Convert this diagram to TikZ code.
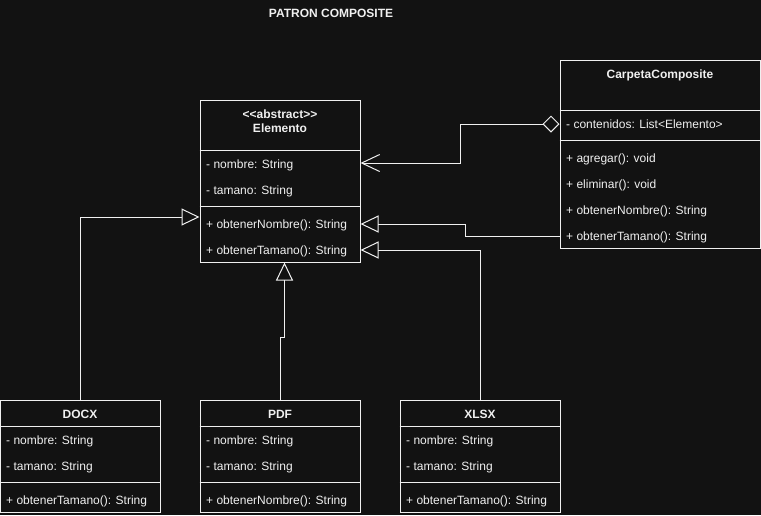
\documentclass[tikz,border=0pt]{standalone}
\usepackage{fontspec}
\setmainfont{Liberation Sans}[Ligatures=TeXOff]
\usetikzlibrary{arrows.meta}
\definecolor{bg}{RGB}{18,18,18}
\definecolor{fg}{RGB}{240,240,240}
\tikzset{
  cls/.style={draw=fg, line width=1pt, rectangle, inner sep=0pt},
  attr/.style={anchor=base west, inner sep=0pt, text=fg, font=\fontsize{12}{14.4}\selectfont, yshift=-1.7pt},
  ttl/.style={anchor=base, inner sep=0pt, text=fg, font=\fontsize{12}{14.4}\selectfont\bfseries, yshift=-1.7pt},
  divl/.style={draw=fg, line width=1pt},
  conn/.style={draw=fg, line width=1pt},
  inh/.style={conn, -{Triangle[open, length=18pt, width=17pt, line width=1pt]}},
  agg/.style={conn, {Diamond[open, length=17pt, width=17pt, line width=1pt]}-{Straight Barb[length=18pt, width=17pt, line width=1pt]}}
}
\begin{document}
\begin{tikzpicture}[x=1pt, y=-1pt]
\fill[bg] (0,0) rectangle (761,515);
\useasboundingbox (0,0) rectangle (761,515);

\node[ttl, yshift=1.5pt] (title) at (331,17.6) {PATRON COMPOSITE};

% Elemento
\node[cls, minimum width=160pt, minimum height=162pt] (elem) at (280,181) {};
\draw[divl] (elem.west |- 0,150) -- (elem.east |- 0,150);
\draw[divl] (elem.west |- 0,206) -- (elem.east |- 0,206);
\node[ttl] (elemst) at (280,116.8) {<<abstract>>};
\node[ttl] (elemname) at (280,131.2) {Elemento};
\node[attr] (e1) at (206,167.2) {- nombre: String};
\node[attr] (e2) at (206,193.2) {- tamano: String};
\node[attr] (e3) at (206,227.2) {+ obtenerNombre(): String};
\node[attr] (e4) at (206,253.2) {+ obtenerTamano(): String};

% CarpetaComposite
\node[cls, minimum width=200pt, minimum height=188pt] (carp) at (660,154) {};
\draw[divl] (carp.west |- 0,110) -- (carp.east |- 0,110);
\draw[divl] (carp.west |- 0,140) -- (carp.east |- 0,140);
\node[ttl] (carpname) at (660,77.2) {CarpetaComposite};
\node[attr] (c1) at (566,127.2) {- contenidos: List<Elemento>};
\node[attr] (c2) at (566,161.2) {+ agregar(): void};
\node[attr] (c3) at (566,187.2) {+ eliminar(): void};
\node[attr] (c4) at (566,213.2) {+ obtenerNombre(): String};
\node[attr] (c5) at (566,239.2) {+ obtenerTamano(): String};

% DOCX
\node[cls, minimum width=160pt, minimum height=112pt] (docx) at (80,456) {};
\draw[divl] (docx.west |- 0,426) -- (docx.east |- 0,426);
\draw[divl] (docx.west |- 0,482) -- (docx.east |- 0,482);
\node[ttl] (docxname) at (80,417.2) {DOCX};
\node[attr] (d1) at (6,443.2) {- nombre: String};
\node[attr] (d2) at (6,469.2) {- tamano: String};
\node[attr] (d3) at (6,503.2) {+ obtenerTamano(): String};

% PDF
\node[cls, minimum width=160pt, minimum height=112pt] (pdf) at (280,456) {};
\draw[divl] (pdf.west |- 0,426) -- (pdf.east |- 0,426);
\draw[divl] (pdf.west |- 0,482) -- (pdf.east |- 0,482);
\node[ttl] (pdfname) at (280,417.2) {PDF};
\node[attr] (p1) at (206,443.2) {- nombre: String};
\node[attr] (p2) at (206,469.2) {- tamano: String};
\node[attr] (p3) at (206,503.2) {+ obtenerNombre(): String};

% XLSX
\node[cls, minimum width=160pt, minimum height=112pt] (xlsx) at (480,456) {};
\draw[divl] (xlsx.west |- 0,426) -- (xlsx.east |- 0,426);
\draw[divl] (xlsx.west |- 0,482) -- (xlsx.east |- 0,482);
\node[ttl] (xlsxname) at (480,417.2) {XLSX};
\node[attr] (x1) at (406,443.2) {- nombre: String};
\node[attr] (x2) at (406,469.2) {- tamano: String};
\node[attr] (x3) at (406,503.2) {+ obtenerTamano(): String};

% connectors
\draw[agg] (carp.west |- 0,124) -- (460,124) -- (460,163) -- (elem.east |- 0,163);
\draw[inh] (carp.west |- 0,236) -- (465,236) -- (465,224) -- (elem.east |- 0,224);
\draw[inh] (xlsx.north) -- (480,250) -- (elem.east |- 0,250);
\draw[inh] (pdf.north) -- (280,337) -- (284.5,337) -- (elem.south -| 284.5,0);
\draw[inh] (docx.north) -- (80,217) -- (elem.west |- 0,217);
\end{tikzpicture}
\end{document}
